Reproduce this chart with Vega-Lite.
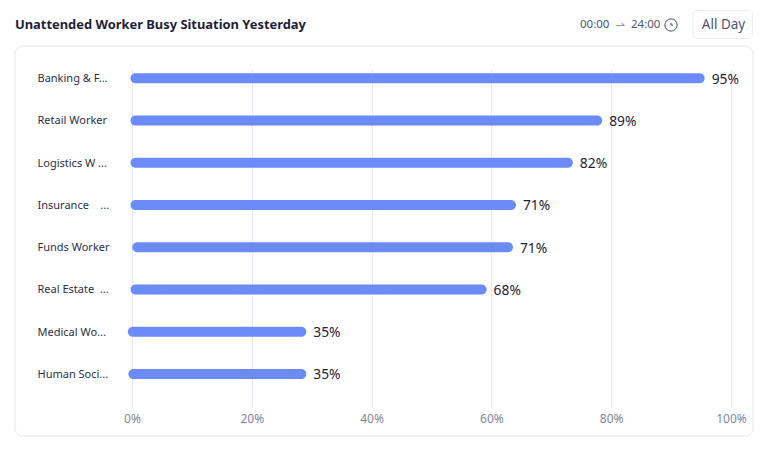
{
"$schema":"https://vega.github.io/schema/vega-lite/v6.json",
"width":599,"height":342,
"autosize":{"type":"none"},
"padding":{"left":132,"top":61,"right":40,"bottom":46},
"background":"#ffffff",
"config":{"font":"Noto Sans","view":{"stroke":null}},
"layer":[
{"data":{"values":[{"k":"card"}]},"mark":{"type":"rect","fill":null,"stroke":"#eef0f4","strokeWidth":1.5,"cornerRadius":8},
 "encoding":{"x":{"value":-117},"x2":{"value":621},"y":{"value":-15},"y2":{"value":375}}},
{"data":{"values":[{"k":"btn"}]},"mark":{"type":"rect","fill":null,"stroke":"#eaecf2","strokeWidth":1,"cornerRadius":4},
 "encoding":{"x":{"value":561},"x2":{"value":620.5},"y":{"value":-50.5},"y2":{"value":-22.5}}},
{"data":{"values":[{"t":"Unattended Worker Busy Situation Yesterday"}]},"mark":{"type":"text","align":"left","baseline":"middle","fontSize":12.9,"fontWeight":"bold","color":"#1c2238"},
 "encoding":{"x":{"value":-117},"y":{"value":-36},"text":{"field":"t"}}},
{"data":{"values":[{"t":"00:00"}]},"mark":{"type":"text","align":"left","baseline":"middle","fontSize":11.5,"color":"#4c5570"},
 "encoding":{"x":{"value":448},"y":{"value":-36},"text":{"field":"t"}}},
{"data":{"values":[{"t":"⇀"}]},"mark":{"type":"text","align":"center","baseline":"middle","fontSize":12,"color":"#8a90a3"},
 "encoding":{"x":{"value":488},"y":{"value":-36},"text":{"field":"t"}}},
{"data":{"values":[{"t":"24:00"}]},"mark":{"type":"text","align":"left","baseline":"middle","fontSize":11.5,"color":"#4c5570"},
 "encoding":{"x":{"value":499},"y":{"value":-36},"text":{"field":"t"}}},
{"data":{"values":[{"t":"All Day"}]},"mark":{"type":"text","align":"center","baseline":"middle","fontSize":13.5,"color":"#4c5570"},
 "encoding":{"x":{"value":591.5},"y":{"value":-36},"text":{"field":"t"}}},
{"data":{"values":[{"k":"clock"}]},"mark":{"type":"point","shape":"circle","size":150,"filled":false,"stroke":"#4c5570","strokeWidth":1,"opacity":1},
 "encoding":{"x":{"value":539},"y":{"value":-36}}},
{"data":{"values":[{"k":"hands"}]},"mark":{"type":"point","shape":"M0,-0.45L0,0L0.4,0","size":100,"filled":false,"stroke":"#4c5570","strokeWidth":1,"opacity":1},
 "encoding":{"x":{"value":539},"y":{"value":-36}}},
{"data":{"name":"rows","values":[
{"name":"Banking & F...","start":-0.25,"end":95.6,"label":"95%"},
{"name":"Retail Worker","start":-0.25,"end":78.5,"label":"89%"},
{"name":"Logistics W ...","start":-0.25,"end":73.6,"label":"82%"},
{"name":"Insurance    ...","start":-0.25,"end":64.1,"label":"71%"},
{"name":"Funds Worker","start":0.05,"end":63.6,"label":"71%"},
{"name":"Real Estate  ...","start":-0.25,"end":59.2,"label":"68%"},
{"name":"Medical Wo...","start":-0.7,"end":29.1,"label":"35%"},
{"name":"Human Soci...","start":-0.6,"end":29.1,"label":"35%"}
]},
"layer":[
{"mark":{"type":"bar","height":10,"color":"#6b8cf8","cornerRadius":5},
 "encoding":{
 "x":{"field":"start","type":"quantitative","scale":{"domain":[0,100],"nice":false},
   "axis":{"title":null,"values":[0,20,40,60,80,100],"labelExpr":"datum.value+'%'","labelFlush":false,"grid":true,"gridColor":"#e8e9f0","gridWidth":1,"domain":false,"ticks":false,"labelColor":"#7f869c","labelFontSize":12,"labelPadding":10}},
 "x2":{"field":"end"},
 "y":{"field":"name","type":"nominal","sort":null,"scale":{"range":[-4,334]},
   "axis":{"title":null,"domain":false,"ticks":false,"grid":false,"labelAlign":"left","labelPadding":95,"labelOffset":1,"labelColor":"#2b3047","labelFontSize":11,"labelLimit":0,
   "labelExpr":"replace(replace(datum.label,'Insurance    ','Insurance\u00a0\u00a0\u00a0\u00a0'),'Estate  ','Estate\u00a0\u00a0')"}}}},
{"mark":{"type":"text","align":"left","baseline":"middle","dx":7,"dy":1.5,"fontSize":13.8,"color":"#1f2233"},
 "encoding":{"x":{"field":"end","type":"quantitative"},"y":{"field":"name","type":"nominal","sort":null},"text":{"field":"label"}}}
]}
]
}
